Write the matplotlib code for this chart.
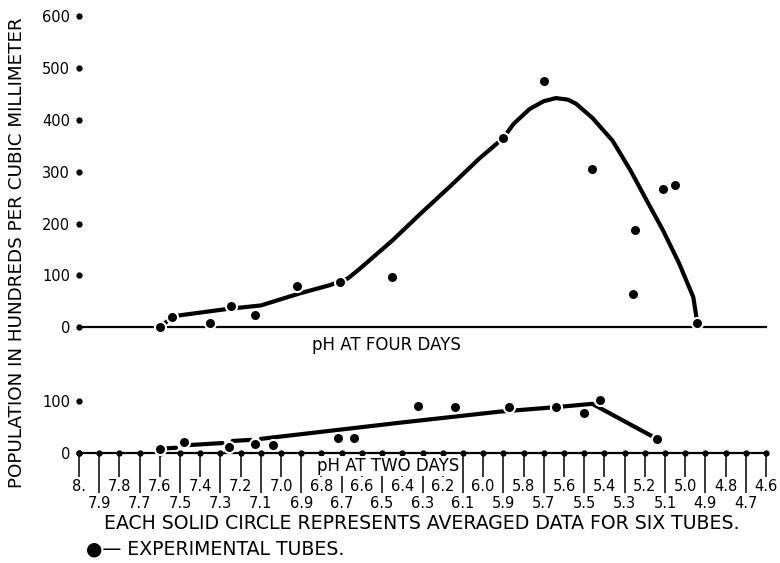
import matplotlib.pyplot as plt

nan = float('nan')

# pH scale (0.1 steps) shown under the two-day panel
ph_ticks = [round(8.0 - 0.1 * i, 1) for i in range(35)]
upper_labels = ['8.', '7.8', '7.6', '7.4', '7.2', '7.0', '6.8', '6.6', '6.4',
                '6.2', '6.0', '5.8', '5.6', '5.4', '5.2', '5.0', '4.8', '4.6']
lower_labels = ['7.9', '7.7', '7.5', '7.3', '7.1', '6.9', '6.7', '6.5', '6.3',
                '6.1', '5.9', '5.7', '5.5', '5.3', '5.1', '4.9', '4.7']

# four days: measured points and the drawn curve
four_ph = [7.60, 7.54, 7.35, 7.25, 7.13, 6.92, 6.71, 6.45, 5.90, 5.70, 5.46,
           5.25, 5.26, 5.11, 5.05, 4.94]
four_pop = [0, 19, 8, 40, 23, 79, 87, 96, 365, 475, 306, 188, 65, 267, 275, 8]
four_curve_ph = [7.60, 7.54, 7.50, 7.27, 7.10, 6.91, 6.76, 6.67, 6.61, 6.45,
                 6.31, 6.16, 6.02, 5.90, 5.85, 5.77, 5.70, 5.64, 5.58, 5.54,
                 5.46, 5.36, 5.27, 5.19, 5.11, 5.03, 4.96, 4.94]
four_curve_pop = [0, 19, 23, 35, 42, 65, 81, 94, 113, 167, 219, 273, 325, 365,
                  392, 421, 436, 442, 439, 431, 404, 360, 302, 244, 187, 123, 58, 8]

# two days: measured points and the drawn line (nan = pen lifted)
two_ph = [7.60, 7.48, 7.26, 7.13, 7.04, 6.72, 6.64, 6.32, 6.14, 5.87, 5.64,
          5.50, 5.42, 5.14]
two_pop = [8, 21, 12, 17, 15, 29, 29, 90, 88, 87, 87, 77, 102, 27]
two_line_ph = [7.60, 7.52, nan, 7.46, 7.29, nan, 7.24, 7.15, nan, 7.10, 6.41,
               5.92, 5.63, 5.46, 5.14]
two_line_pop = [8, 10, nan, 15, 19, nan, 23, 25, nan, 27, 58, 79, 88, 94, 27]

upper_yticks = [0, 100, 200, 300, 400, 500, 600]
lower_yticks = [0, 100]

fig = plt.figure(figsize=(7.8, 5.63), dpi=100)
ax1 = fig.add_axes([0.1013, 0.405, 0.8808, 0.5773])
ax2 = fig.add_axes([0.1013, 0.183, 0.8808, 0.1243])

for ax in (ax1, ax2):
    ax.set_xlim(8.0, 4.6)
    for s in ('top', 'right', 'left'):
        ax.spines[s].set_visible(False)
    ax.spines['bottom'].set_position(('data', 0))
    ax.spines['bottom'].set_linewidth(1.6)
    ax.tick_params(axis='y', length=0, pad=6.5, labelsize=10.5)

# upper panel
ax1.set_ylim(-15, 612)
ax1.set_yticks(upper_yticks, [str(v) for v in upper_yticks])
ax1.set_xticks([])
ax1.plot([8.0] * len(upper_yticks), upper_yticks, 'o', color='black', ms=3.5, clip_on=False)
ax1.plot(four_curve_ph, four_curve_pop, color='black', lw=3,
         solid_capstyle='round', solid_joinstyle='round', zorder=2)
ax1.plot(four_ph, four_pop, 'o', color='black', ms=8, mec='white', mew=1.5,
         clip_on=False, zorder=3)

# lower panel
ax2.set_ylim(-13.4, 120.5)
ax2.set_yticks(lower_yticks, [str(v) for v in lower_yticks])
ax2.plot([8.0] * len(lower_yticks), lower_yticks, 'o', color='black', ms=3.5, clip_on=False)
ax2.set_xticks(ph_ticks[::2], upper_labels)
ax2.set_xticks(ph_ticks[1::2], lower_labels, minor=True)
ax2.tick_params(axis='x', which='major', length=17, width=1.1, pad=2, labelsize=10.5)
ax2.tick_params(axis='x', which='minor', length=29, width=1.1, pad=2, labelsize=10.5)
ax2.plot(ph_ticks, [0] * len(ph_ticks), 'o', color='black', ms=3.5, clip_on=False, zorder=3)
ax2.plot(two_line_ph, two_line_pop, color='black', lw=3,
         solid_capstyle='round', solid_joinstyle='round', zorder=2)
ax2.plot(two_ph, two_pop, 'o', color='black', ms=8, mec='white', mew=1.5,
         clip_on=False, zorder=3)

fig.text(0.496, 0.387, 'pH AT FOUR DAYS', ha='center', va='center', fontsize=12)
fig.text(0.497, 0.172, 'pH AT TWO DAYS', ha='center', va='center', fontsize=12,
         bbox=dict(facecolor='white', edgecolor='none', pad=1))
fig.text(0.022, 0.552, 'POPULATION IN HUNDREDS PER CUBIC MILLIMETER', rotation=90,
         ha='center', va='center', fontsize=13.2)
fig.text(0.541, 0.071, 'EACH SOLID CIRCLE REPRESENTS AVERAGED DATA FOR SIX TUBES.',
         ha='center', va='center', fontsize=13.6)
fig.text(0.11, 0.025, '\u25cf\u2014 EXPERIMENTAL TUBES.', ha='left', va='center', fontsize=13.6)

fig.savefig('out.png', dpi=100, facecolor='white')
